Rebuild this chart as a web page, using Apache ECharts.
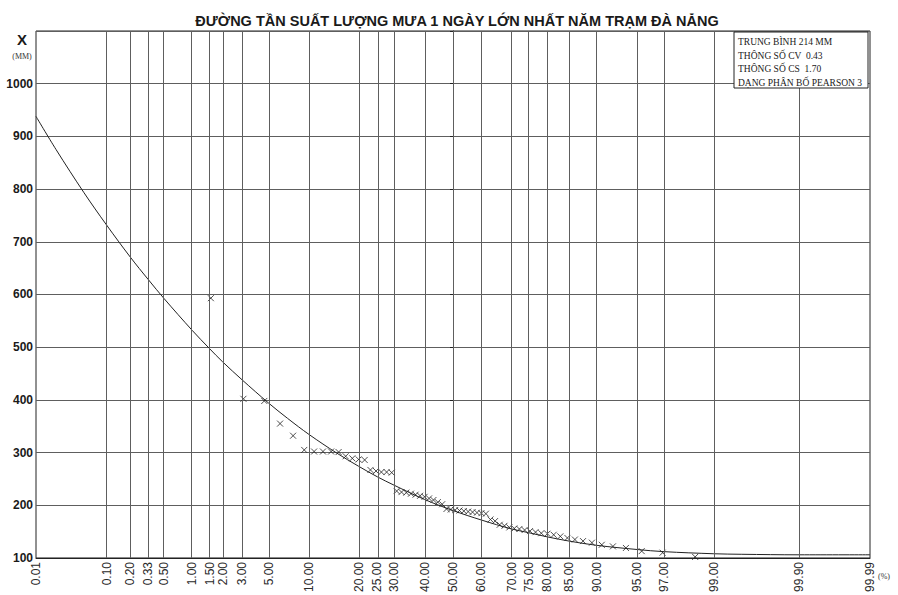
<!DOCTYPE html>
<html>
<head>
<meta charset="utf-8">
<script src="https://cdn.jsdelivr.net/npm/echarts@6/dist/echarts.min.js"></script>
<style>
html,body{margin:0;padding:0;background:#fff;}
#chart{width:898px;height:595px;}
</style>
</head>
<body>
<div id="chart"></div>
<script>
// ---- data ----
const tickLabels = ["0.01","0.10","0.20","0.33","0.50","1.00","1.50","2.00","3.00","5.00","10.00","20.00","25.00","30.00","40.00","50.00","60.00","70.00","75.00","80.00","85.00","90.00","95.00","97.00","99.00","99.90","99.99"];
const tickProb = [0.01,0.10,0.20,0.33,0.50,1,1.5,2,3,5,10,20,25,30,40,50,60,70,75,80,85,90,95,97,99,99.9,99.99];
const yTicksMin = 100, yTicksMax = 1100, yStep = 100;

// theoretical curve (Pearson III)
const curveProb  = [0.01,0.02,0.05,0.10,0.20,0.33,0.50,1,1.5,2,3,5,7,10,15,20,25,30,40,50,60,70,75,80,85,90,95,97,99,99.5,99.9,99.99];
const curveValue = [938,875,793,732,671,628,592,532,497,472,438,394,365,334,299,274,254,238,211,190,172,155,148,140,132,124,116,112,108,107,106,106];

// observed (empirical) points
const obsProb = [1.54,3.08,4.62,6.15,7.69,9.23,10.77,12.31,13.85,15.38,16.92,18.46,20.00,21.54,23.08,24.62,26.15,27.69,29.23,30.77,32.31,33.85,35.38,36.92,38.46,40.00,41.54,43.08,44.62,46.15,47.69,49.23,50.77,52.31,53.85,55.38,56.92,58.46,60.00,61.54,63.08,64.62,66.15,67.69,69.23,70.77,72.31,73.85,75.38,76.92,78.46,80.00,81.54,83.08,84.62,86.15,87.69,89.23,90.77,92.31,93.85,95.38,96.92,98.46];
const obsValue = [593,402,398,355,332,305,302,302,302,301,293,289,287,286,267,265,263,263,262,227,225,224,222,220,218,216,213,210,206,202,193,192,191,190,189,188,187,186,185,184,173,170,163,161,158,156,155,153,151,149,147,146,144,141,138,135,132,129,125,122,119,113,110,102];

const titleText = "ĐƯỜNG TẦN SUẤT LƯỢNG MƯA 1 NGÀY LỚN NHẤT NĂM TRẠM ĐÀ NẴNG";
const infoLines = ["TRUNG BÌNH 214 MM","THÔNG SỐ CV  0.43","THÔNG SỐ CS  1.70","DẠNG PHÂN BỐ PEARSON 3"];

// ---- probability-paper scale: normal quantile ----
function normInv(p){
  const a=[-3.969683028665376e+01,2.209460984245205e+02,-2.759285104469687e+02,1.383577518672690e+02,-3.066479806614716e+01,2.506628277459239e+00];
  const b=[-5.447609879822406e+01,1.615858368580409e+02,-1.556989798598866e+02,6.680131188771972e+01,-1.328068155288572e+01];
  const c=[-7.784894002430293e-03,-3.223964580411365e-01,-2.400758277161838e+00,-2.549732539343734e+00,4.374664141464968e+00,2.938163982698783e+00];
  const d=[7.784695709041462e-03,3.224671290700398e-01,2.445134137142996e+00,3.754408661907416e+00];
  const pl=0.02425, ph=1-pl; let q,r;
  if(p<pl){q=Math.sqrt(-2*Math.log(p));return (((((c[0]*q+c[1])*q+c[2])*q+c[3])*q+c[4])*q+c[5])/((((d[0]*q+d[1])*q+d[2])*q+d[3])*q+1);}
  if(p<=ph){q=p-0.5;r=q*q;return (((((a[0]*r+a[1])*r+a[2])*r+a[3])*r+a[4])*r+a[5])*q/(((((b[0]*r+b[1])*r+b[2])*r+b[3])*r+b[4])*r+1);}
  q=Math.sqrt(-2*Math.log(1-p));return -(((((c[0]*q+c[1])*q+c[2])*q+c[3])*q+c[4])*q+c[5])/((((d[0]*q+d[1])*q+d[2])*q+d[3])*q+1);
}
const P = pct => normInv(pct/100);
const tickZ = tickProb.map(P);
const xMin = tickZ[0], xMax = tickZ[tickZ.length-1];

const curveData = curveProb.map((p,i)=>[P(p), curveValue[i]]);
const obsData = obsProb.map((p,i)=>[P(p), obsValue[i]]);

const chart = echarts.init(document.getElementById('chart'), null, {renderer:'svg'});
const gridLineColor = '#5e5e5e';
chart.setOption({
  animation:false,
  backgroundColor:'#ffffff',
  title:{
    text:titleText, left:452, top:8, textAlign:'center',
    textStyle:{fontFamily:'Liberation Sans, Arial, sans-serif', fontWeight:'bold', fontSize:14.5, color:'#1a1a1a'}
  },
  grid:{left:36, right:28, top:31, bottom:34, show:true, borderColor:'#222', borderWidth:1, backgroundColor:'transparent'},
  xAxis:{
    type:'value', min:xMin, max:xMax,
    splitLine:{show:false},
    axisLine:{show:true, lineStyle:{color:'#222'}},
    axisTick:{show:false},
    axisLabel:{
      customValues:tickZ, rotate:90, margin:4,
      fontFamily:'Liberation Sans, Arial, sans-serif', fontSize:12, color:'#2a2a2a',
      formatter:function(v){
        for(let i=0;i<tickZ.length;i++){ if(Math.abs(tickZ[i]-v)<1e-6) return tickLabels[i]; }
        return '';
      }
    }
  },
  yAxis:{
    type:'value', min:yTicksMin, max:yTicksMax, interval:yStep,
    axisLine:{show:true, lineStyle:{color:'#222'}},
    axisTick:{show:true, length:3, lineStyle:{color:'#222'}},
    splitLine:{show:true, lineStyle:{color:gridLineColor, width:1}},
    axisLabel:{
      margin:3, fontFamily:'Liberation Sans, Arial, sans-serif', fontWeight:'bold', fontSize:12, color:'#1a1a1a',
      formatter:function(v){ return v>=yTicksMax ? '' : String(v); }
    }
  },
  series:[
    {
      type:'line', data:curveData, smooth:0.35, showSymbol:false,
      lineStyle:{color:'#222', width:1}, z:3,
      markLine:{
        silent:true, symbol:['none','none'], animation:false,
        label:{show:false},
        lineStyle:{color:gridLineColor, width:1, type:'solid'},
        data:tickZ.slice(1,-1).map(z=>({xAxis:z}))
      }
    },
    {
      type:'scatter', data:obsData, symbol:'path://M0,0L10,10M10,0L0,10', symbolSize:6,
      itemStyle:{color:'transparent', borderColor:'#222', borderWidth:1}, z:4
    }
  ],
  graphic:[
    {type:'rect', shape:{x:734, y:32, width:134, height:56}, style:{fill:'#fff', stroke:'#222', lineWidth:1}, z:100},
    ...infoLines.map((t,i)=>({type:'text', x:738, y:37+i*13.5, z:101,
      style:{text:t, fill:'#1a1a1a', font:'9.5px "Liberation Serif", "Times New Roman", serif'}})),
    {type:'text', x:22, y:32, z:101, style:{text:'X', fill:'#1a1a1a', textAlign:'center', font:'bold 15px "Liberation Sans", Arial, sans-serif'}},
    {type:'text', x:22, y:52, z:101, style:{text:'(MM)', fill:'#333', textAlign:'center', font:'8px "Liberation Serif", "Times New Roman", serif'}},
    {type:'text', x:878, y:572, z:101, style:{text:'(%)', fill:'#333', font:'8px "Liberation Serif", "Times New Roman", serif'}}
  ]
});
</script>
</body>
</html>
